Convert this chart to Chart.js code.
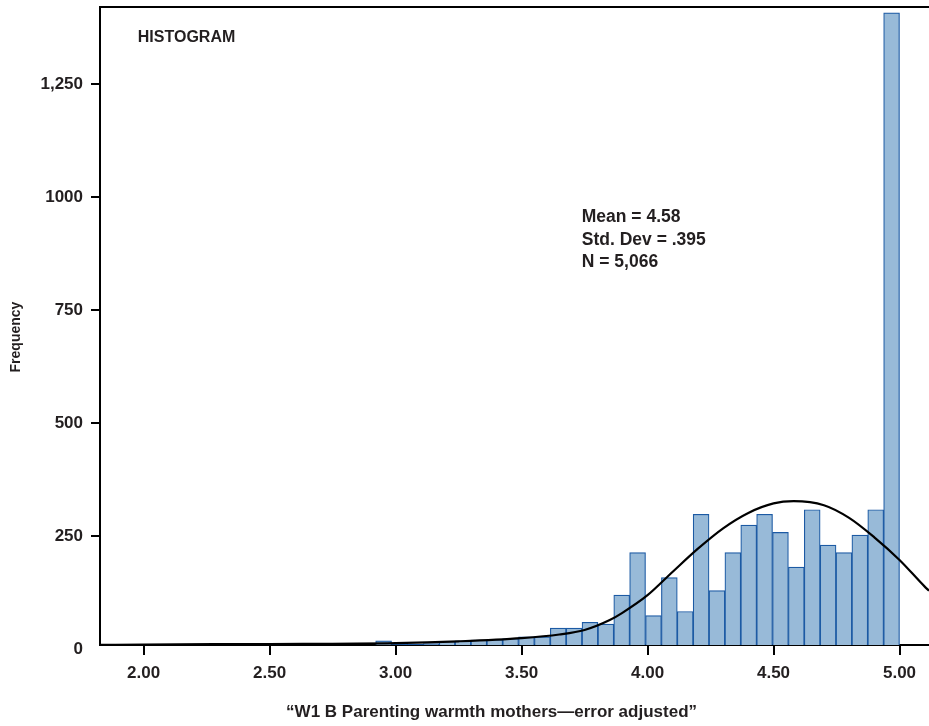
<!DOCTYPE html>
<html>
<head>
<meta charset="utf-8">
<title>Histogram</title>
<script src="https://cdn.jsdelivr.net/npm/chart.js@4.4.1/dist/chart.umd.min.js"></script>
<style>
  html, body { margin: 0; padding: 0; background: #fff; }
  #wrap { width: 929px; height: 726px; }
</style>
</head>
<body>
<div id="wrap"><canvas id="myChart" width="929" height="726"></canvas></div>
<script>
// histogram bins (centre of each bin, bin width .063) and counts
const binCenters = [
  2.9525, 3.0155, 3.0785, 3.1415, 3.2045, 3.2675, 3.3305, 3.3935, 3.4565, 3.5195, 3.5825,
  3.6455, 3.7085, 3.7715, 3.8345, 3.8975, 3.9605, 4.0235, 4.0865, 4.1495, 4.2125, 4.2755,
  4.3385, 4.4015, 4.4645, 4.5275, 4.5905, 4.6535, 4.7165, 4.7795, 4.8425, 4.9055, 4.9685
];
const binCounts = [
  18, 11, 11, 12, 17, 18, 20, 21, 23, 27, 27,
  46, 46, 59, 55, 119, 213, 74, 158, 83, 298, 129,
  213, 274, 298, 258, 181, 308, 230, 213, 252, 308, 1407
];

// normal curve
const curveX = [1.83, 2.0, 2.5, 3.0, 3.25, 3.5, 3.65, 3.75, 3.85, 3.9, 4.0, 4.1, 4.2, 4.3, 4.4, 4.5, 4.58, 4.7, 4.8, 4.9, 5.0, 5.1, 5.117];
const curveY = [9, 10, 11, 13, 17, 24, 32, 42, 64, 80, 119, 171, 222, 267, 301, 322, 327, 318, 290, 247, 197, 138, 129];

// axes (the x axis line sits a little above 0, the 0 label hangs below it)
const yMin = 8.85;
const yMax = 1420;
const xTicks = [2.0, 2.5, 3.0, 3.5, 4.0, 4.5, 5.0];
const yTicks = [0, 250, 500, 750, 1000, 1250];
const yTickLabels = ["0", "250", "500", "750", "1000", "1,250"];

// texts
const chartLabel = "HISTOGRAM";
const statLines = ["Mean = 4.58", "Std. Dev = .395", "N = 5,066"];
const xTitle = "\u201cW1 B Parenting warmth mothers\u2014error adjusted\u201d";
const yTitle = "Frequency";

const fontName = "'Liberation Sans', Arial, sans-serif";
const ink = "#231f20";

const barData = [];
for (let i = 0; i < binCenters.length; i++) {
  barData.push({ x: binCenters[i], y: binCounts[i] });
}
const curveData = [];
for (let i = 0; i < curveX.length; i++) {
  curveData.push({ x: curveX[i], y: curveY[i] });
}

// no extra room for the end labels, the plot box is fixed
function noPadding(scale) {
  scale.paddingTop = 0;
  scale.paddingBottom = 0;
  scale.paddingLeft = 0;
  scale.paddingRight = 0;
}

// texts that sit inside the plot and the two axis titles
const textPlugin = {
  id: "chartText",
  afterDraw(chart) {
    const ctx = chart.ctx;
    const xs = chart.scales.x;
    const ys = chart.scales.y;
    ctx.save();
    ctx.fillStyle = ink;
    ctx.textBaseline = "middle";

    ctx.textAlign = "left";
    ctx.font = "bold 16px " + fontName;
    ctx.fillText(chartLabel, xs.getPixelForValue(1.977), ys.getPixelForValue(1352));

    ctx.font = "bold 17.5px " + fontName;
    let statY = [955, 905, 855];
    for (let i = 0; i < statLines.length; i++) {
      ctx.fillText(statLines[i], xs.getPixelForValue(3.739), ys.getPixelForValue(statY[i]));
    }

    ctx.textAlign = "center";
    ctx.font = "bold 17px " + fontName;
    ctx.fillText(xTitle, xs.getPixelForValue(3.381), xs.top + 67);

    ctx.font = "bold 14px " + fontName;
    ctx.translate(ys.left + 16, ys.getPixelForValue(690));
    ctx.rotate(-Math.PI / 2);
    ctx.fillText(yTitle, 0, 0);
    ctx.restore();
  },
};

new Chart(document.getElementById("myChart"), {
  type: "bar",
  data: {
    datasets: [
      {
        type: "line",
        data: curveData,
        borderColor: "#000",
        borderWidth: 2.2,
        pointRadius: 0,
        cubicInterpolationMode: "monotone",
        fill: false,
        order: 0,
      },
      {
        type: "bar",
        data: barData,
        backgroundColor: "rgb(152,186,216)",
        borderColor: "rgb(28,90,164)",
        borderWidth: 1.2,
        barPercentage: 1,
        categoryPercentage: 1,
        order: 1,
      },
    ],
  },
  options: {
    responsive: false,
    animation: false,
    devicePixelRatio: 1,
    layout: { padding: { top: 7, right: 0, bottom: 0, left: 0 } },
    plugins: {
      legend: { display: false },
      tooltip: { enabled: false },
      title: { display: false },
    },
    scales: {
      x: {
        type: "linear",
        position: "bottom",
        min: 1.827,
        max: 5.117,
        offset: false,
        afterBuildTicks: (scale) => {
          scale.ticks = xTicks.map((v) => ({ value: v }));
        },
        afterFit: (scale) => {
          scale.height = 81;
          noPadding(scale);
        },
        ticks: {
          autoSkip: false,
          maxRotation: 0,
          padding: 8,
          color: ink,
          font: { family: fontName, size: 17, weight: "bold" },
          callback: (value) => Number(value).toFixed(2),
        },
        grid: { offset: false, drawOnChartArea: false, drawTicks: true, tickLength: 10, color: "#000", lineWidth: 2 },
        border: { display: true, color: "#000", width: 2 },
      },
      x2: {
        type: "linear",
        position: "top",
        min: 1.827,
        max: 5.117,
        offset: false,
        afterFit: (scale) => {
          scale.height = 0;
          noPadding(scale);
        },
        ticks: { display: false },
        grid: { drawOnChartArea: false, drawTicks: false, color: "#000", lineWidth: 2 },
        border: { display: true, color: "#000", width: 2 },
      },
      y: {
        type: "linear",
        min: yMin,
        max: yMax,
        afterBuildTicks: (scale) => {
          scale.ticks = yTicks.map((v) => ({ value: v }));
        },
        afterFit: (scale) => {
          scale.width = 100;
          noPadding(scale);
        },
        ticks: {
          padding: 8,
          color: ink,
          font: { family: fontName, size: 17, weight: "bold" },
          callback: (value) => yTickLabels[yTicks.indexOf(value)],
        },
        grid: {
          drawOnChartArea: false,
          drawTicks: true,
          tickLength: 9,
          // the 0 label has no tick mark
          color: (c) => (c.tick && c.tick.value === 0 ? "rgba(0,0,0,0)" : "#000"),
          lineWidth: 2,
        },
        border: { display: true, color: "#000", width: 2 },
      },
    },
  },
  plugins: [textPlugin],
});
</script>
</body>
</html>
